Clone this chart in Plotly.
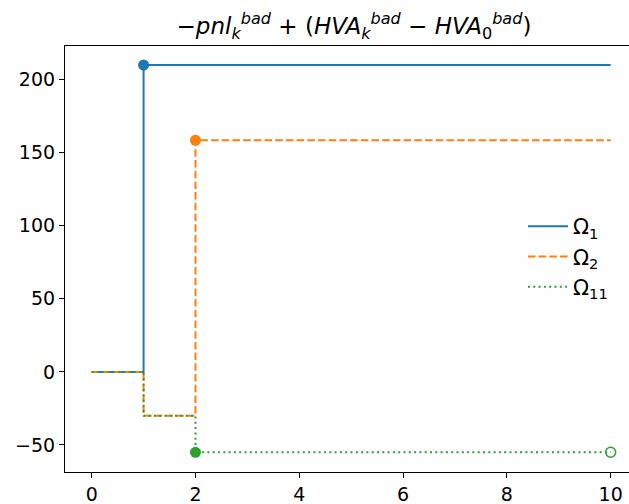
import plotly.graph_objects as go

# data
k = [0, 1, 2, 3, 4, 5, 6, 7, 8, 9, 10]
omega1 = [0, 210, 210, 210, 210, 210, 210, 210, 210, 210, 210]
omega2 = [0, -30, 158.5, 158.5, 158.5, 158.5, 158.5, 158.5, 158.5, 158.5, 158.5]
omega11 = [0, -30, -55, -55, -55, -55, -55, -55, -55, -55, -55]
names = ["Ω<sub>1</sub>", "Ω<sub>2</sub>", "Ω<sub>11</sub>"]
stop_idx = [1, 2, 2]          # stopping index marked with filled dot
end_idx = 10                  # hollow marker on Ω11 at the end

colors = ["#1f77b4", "#ff7f0e", "#2ca02c"]
dashes = ["solid", "7.5px,3.2px", "2px,3.3px"]
series = [omega1, omega2, omega11]

fig = go.Figure()
for s, nm, c, d in zip(series, names, colors, dashes):
    fig.add_trace(go.Scatter(x=k, y=s, mode="lines", name=nm, line_shape="hv",
                             line=dict(color=c, width=2, dash=d)))
for s, c, i in zip(series, colors, stop_idx):
    fig.add_trace(go.Scatter(x=[k[i]], y=[s[i]], mode="markers", showlegend=False,
                             marker=dict(color=c, size=11, line=dict(width=0))))
fig.add_trace(go.Scatter(x=[k[end_idx]], y=[omega11[end_idx]], mode="markers", showlegend=False,
                         marker=dict(symbol="circle-open", color=colors[2], size=10,
                                     line=dict(width=1.6, color=colors[2]))))

axis_common = dict(showgrid=False, zeroline=False, showline=True, linecolor="black", linewidth=1.2,
                   ticks="outside", ticklen=5, tickwidth=1.2, tickcolor="black",
                   tickfont=dict(family="DejaVu Sans", size=19, color="black"))

fig.update_layout(
    width=629, height=504,
    margin=dict(l=65, r=0, t=46, b=32),
    paper_bgcolor="white", plot_bgcolor="white",
    font=dict(family="DejaVu Sans", color="black"),
    title=dict(text="−<i>pnl</i><sub><i>k</i></sub><sup><i>bad</i></sup> + (<i>HVA</i><sub><i>k</i></sub><sup><i>bad</i></sup> − <i>HVA</i><sub>0</sub><sup><i>bad</i></sup>)",
               x=354/629, xanchor="center", xref="container",
               y=1-26/504, yanchor="middle", yref="container",
               font=dict(family="DejaVu Sans", size=23, color="black")),
    xaxis=dict(range=[-0.514, 10.353], tickvals=[0, 2, 4, 6, 8, 10], mirror=True, **axis_common),
    yaxis=dict(range=[-68.5, 223.0], tickvals=[-50, 0, 50, 100, 150, 200], mirror=False, **axis_common),
    legend=dict(x=(523-65)/564, y=1 - (206-46)/426, xanchor="left", yanchor="top",
                bgcolor="rgba(0,0,0,0)", borderwidth=0,
                font=dict(family="DejaVu Sans", size=21, color="black"),
                itemwidth=40, tracegroupgap=0),
)

fig.write_html("out.html", config={"displayModeBar": False},
               post_script="document.body.style.margin='0px';document.body.style.overflow='hidden';")
